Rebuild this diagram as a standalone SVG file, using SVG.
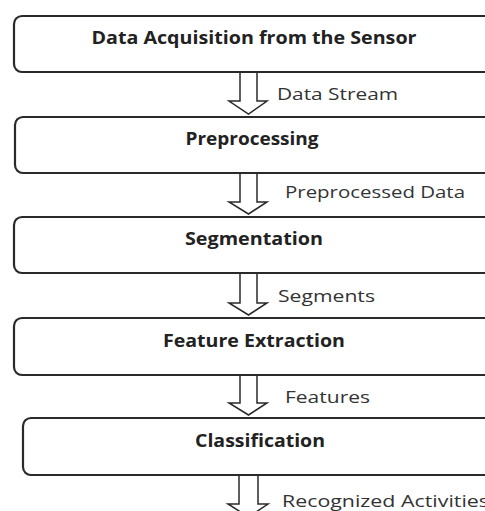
<svg xmlns="http://www.w3.org/2000/svg" width="485" height="511" viewBox="0 0 485 511">
<style>
.box{fill:#fff;stroke:#2a2a2a;stroke-width:2.2}
.arr{fill:#fff;stroke:#2a2a2a;stroke-width:1.5;stroke-linejoin:miter}
.t{font-family:"Open Sans","Liberation Sans",sans-serif;font-weight:bold;font-size:17px;fill:#222;text-anchor:middle}
.l{font-family:"Open Sans","Liberation Sans",sans-serif;font-size:16px;fill:#333}
</style>
<rect width="485" height="511" fill="#fff"/>
<g id="connectors">
<path class="arr" d="M240,72 V101 H229 L248.5,114 L267,101 H257 V72"/>
<path class="arr" d="M240,173 V202 H229 L248.5,214 L267,202 H257 V173"/>
<path class="arr" d="M240,274 V303 H229 L248.5,315 L267,303 H257 V274"/>
<path class="arr" d="M240,375 V403 H229 L248.5,415 L267,403 H257 V375"/>
<path class="arr" d="M239,476 V504 H228 L248.5,517 L268,504 H258 V476"/>
<text class="l" x="277" y="100" textLength="121" lengthAdjust="spacingAndGlyphs">Data Stream</text>
<text class="l" x="285" y="198" textLength="180" lengthAdjust="spacingAndGlyphs">Preprocessed Data</text>
<text class="l" x="278" y="302" textLength="97" lengthAdjust="spacingAndGlyphs">Segments</text>
<text class="l" x="285" y="403" textLength="85" lengthAdjust="spacingAndGlyphs">Features</text>
<text class="l" x="282" y="507" textLength="207" lengthAdjust="spacingAndGlyphs">Recognized Activities</text>
</g>
<g id="node1">
<rect class="box" x="14" y="16" width="490" height="56" rx="8"/>
<text class="t" x="254" y="44" textLength="325" lengthAdjust="spacingAndGlyphs">Data Acquisition from the Sensor</text>
</g>
<g id="node2">
<rect class="box" x="15" y="117" width="490" height="56" rx="8"/>
<text class="t" x="252" y="145" textLength="133" lengthAdjust="spacingAndGlyphs">Preprocessing</text>
</g>
<g id="node3">
<rect class="box" x="14" y="217" width="490" height="56" rx="8"/>
<text class="t" x="254" y="245" textLength="138" lengthAdjust="spacingAndGlyphs">Segmentation</text>
</g>
<g id="node4">
<rect class="box" x="14" y="318" width="490" height="57" rx="8"/>
<text class="t" x="254" y="347" textLength="182" lengthAdjust="spacingAndGlyphs">Feature Extraction</text>
</g>
<g id="node5">
<rect class="box" x="23" y="418" width="490" height="57" rx="8"/>
<text class="t" x="260" y="447" textLength="130" lengthAdjust="spacingAndGlyphs">Classification</text>
</g>
</svg>
